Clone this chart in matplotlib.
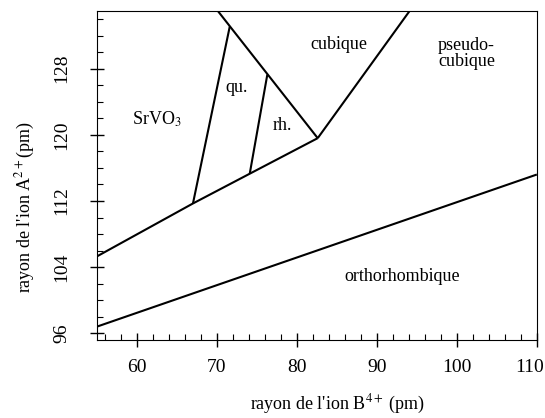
import numpy as np
import matplotlib.pyplot as plt
import matplotlib.transforms as mtransforms
from matplotlib.ticker import MultipleLocator

plt.rcParams['font.family'] = ['Liberation Serif', 'DejaVu Serif']
plt.rcParams['mathtext.fontset'] = 'stix'

# phase boundaries (rayon B4+, rayon A2+), pm
ortho_x = [55, 110]
ortho_y = [96.8, 115.2]
lower_x = [55, 67.0, 74.1, 82.6]
lower_y = [105.3, 111.7, 115.3, 119.6]
edge_x = [70.1, 82.6]
edge_y = [135.0, 119.6]
qu_x = [67.0, 71.6]
qu_y = [111.7, 133.1]
rh_x = [74.1, 76.3]
rh_y = [115.3, 127.3]
cub_x = [82.6, 94.1]
cub_y = [119.6, 135.0]

labels = ["SrVO$_3$", "qu.", "rh.", "cubique", "pseudo-\ncubique", "orthorhombique"]
label_x = [62.5, 72.4, 78.2, 85.2, 101.2, 93.2]
label_y = [121.9, 125.7, 121.1, 130.9, 129.8, 102.9]

xticks = [60, 70, 80, 90, 100, 110]
yticks = [96, 104, 112, 120, 128]

fig = plt.figure(figsize=(5.45, 4.18), dpi=100)
ax = fig.add_axes([0.178, 0.187, 0.807, 0.787])

for xs, ys in [(ortho_x, ortho_y), (lower_x, lower_y), (edge_x, edge_y),
               (qu_x, qu_y), (rh_x, rh_y), (cub_x, cub_y)]:
    ax.plot(xs, ys, color='black', lw=1.5, solid_capstyle='butt')

for t, x, y in zip(labels, label_x, label_y):
    ax.text(x, y, t, ha='center', va='center', fontsize=13, linespacing=0.9)

ax.set_xlim(55, 110)
ax.set_ylim(95.2, 135)
ax.xaxis.set_minor_locator(MultipleLocator(2))
ax.yaxis.set_minor_locator(MultipleLocator(2))
ax.set_xticks(xticks)
ax.set_yticks(yticks)
ax.tick_params(which='major', direction='inout', length=10, width=1, labelsize=14)
ax.tick_params(which='minor', direction='in', length=4, width=0.8)
ax.tick_params(axis='x', which='major', pad=9)
ax.tick_params(axis='y', which='major', pad=14, labelrotation=90)
for lab in ax.get_yticklabels():
    lab.set_va('center')

# last x label sits against the right edge
last = ax.get_xticklabels()[-1]
last.set_ha('right')
last.set_transform(last.get_transform() + mtransforms.ScaledTranslation(0.07, 0, fig.dpi_scale_trans))

fig.text(338 / 545, 1 - 404 / 418, "rayon de l'ion B$^{4+}$ (pm)", fontsize=13,
         ha='center', va='center')
fig.text(25 / 545, 1 - 207 / 418, "rayon de l'ion A$^{2+}$(pm)", fontsize=13,
         ha='center', va='center', rotation=90)

fig.savefig("out.png", dpi=100)
